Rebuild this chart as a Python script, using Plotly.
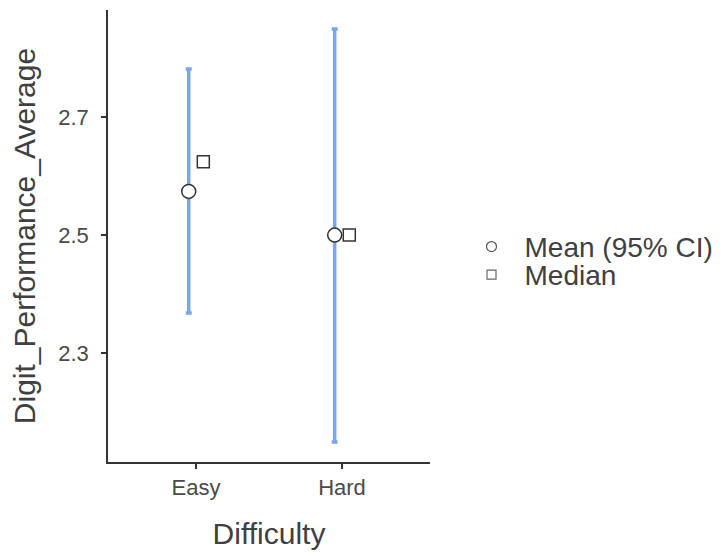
import plotly.graph_objects as go

categories = ["Easy", "Hard"]
mean_values = [2.574, 2.500]
ci_upper = [2.781, 2.849]
ci_lower = [2.368, 2.150]
median_values = [2.624, 2.500]
y_ticks = [2.3, 2.5, 2.7]

xpos = list(range(len(categories)))
dodge = 0.05
mean_x = [x - dodge for x in xpos]
median_x = [x + dodge for x in xpos]

err_plus = [u - m for u, m in zip(ci_upper, mean_values)]
err_minus = [m - l for m, l in zip(mean_values, ci_lower)]

FONT = "Liberation Sans, Arial, sans-serif"
GREY = "#333333"
TXT = "#404040"
BLUE = "#7BA4EE"

fig = go.Figure()

# Error bars
fig.add_trace(go.Scatter(
    x=mean_x, y=mean_values, mode="markers",
    marker=dict(size=1, color="rgba(0,0,0,0)"),
    error_y=dict(type="data", array=err_plus, arrayminus=err_minus,
                 color=BLUE, thickness=3.5, width=3),
    showlegend=False, hoverinfo="skip"))

# Median squares
fig.add_trace(go.Scatter(
    x=median_x, y=median_values, mode="markers",
    marker=dict(symbol="square", size=12, color="white",
                line=dict(color=GREY, width=1.5)),
    showlegend=False))

# Mean circles
fig.add_trace(go.Scatter(
    x=mean_x, y=mean_values, mode="markers",
    marker=dict(symbol="circle", size=14, color="white",
                line=dict(color=GREY, width=1.5)),
    showlegend=False))

# Legend-only traces
fig.add_trace(go.Scatter(
    x=[None], y=[None], mode="markers", name="Mean (95% CI)",
    legend="legend",
    marker=dict(symbol="circle", size=10, color="white",
                line=dict(color="#555555", width=1.2))))
fig.add_trace(go.Scatter(
    x=[None], y=[None], mode="markers", name="Median",
    legend="legend2",
    marker=dict(symbol="square", size=9, color="white",
                line=dict(color="#666666", width=1.2))))

legend_common = dict(xanchor="left", yanchor="middle",
                     font=dict(size=28, color=TXT), itemwidth=56,
                     bgcolor="rgba(0,0,0,0)")

fig.update_layout(
    width=718, height=546,
    margin=dict(l=100, r=296, t=2, b=92),
    plot_bgcolor="white", paper_bgcolor="white",
    font=dict(family=FONT, color=TXT),
    showlegend=True,
    legend=dict(x=1.0885, y=0.476, **legend_common),
    legend2=dict(x=1.0885, y=0.414, **legend_common),
    xaxis=dict(
        range=[-0.603, 1.603],
        tickmode="array", tickvals=xpos, ticktext=categories,
        showgrid=False, zeroline=False,
        showline=True, linecolor=GREY, linewidth=1.5,
        ticks="outside", ticklen=5, tickwidth=2, tickcolor=GREY,
        tickfont=dict(size=22, color="#4a4a4a"),
        title=dict(text="Difficulty", font=dict(size=30, color=TXT),
                   standoff=24),
    ),
    yaxis=dict(
        range=[2.116, 2.881],
        tickmode="array", tickvals=y_ticks,
        ticktext=[f"{v:.1f}" for v in y_ticks],
        showgrid=False, zeroline=False,
        showline=True, linecolor=GREY, linewidth=1.5,
        ticks="outside", ticklen=5, tickwidth=2, tickcolor=GREY,
        tickfont=dict(size=22, color="#4a4a4a"),
        ticklabelstandoff=8,
        title=dict(text="Digit_Performance_Average",
                   font=dict(size=30, color=TXT), standoff=14),
    ),
)

fig.write_html("out.html")
